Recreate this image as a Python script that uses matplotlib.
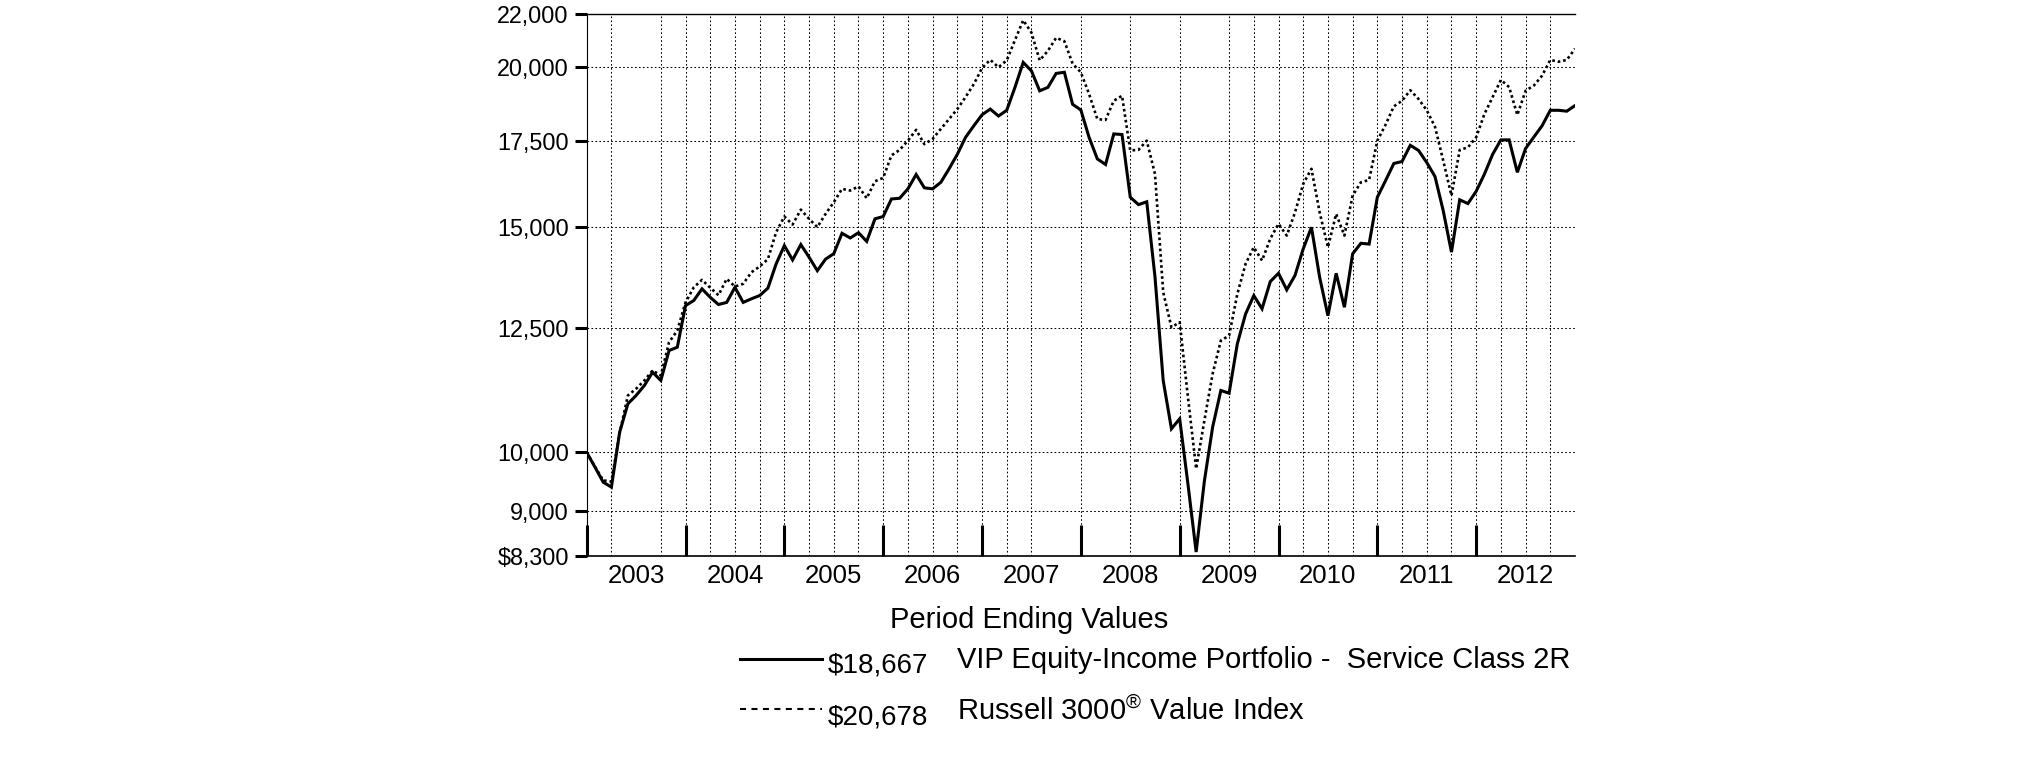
import matplotlib
matplotlib.use("Agg")
import matplotlib.pyplot as plt
from matplotlib.ticker import FixedLocator, FixedFormatter, NullLocator
from matplotlib.lines import Line2D

plt.rcParams['font.family'] = ['Liberation Sans', 'DejaVu Sans']
plt.rcParams['mathtext.fontset'] = 'custom'
plt.rcParams['mathtext.rm'] = 'Liberation Sans'
plt.rcParams['mathtext.it'] = 'Liberation Sans'

# ---- data (monthly, Dec 2002 .. Dec 2012) ----
years = ["2003", "2004", "2005", "2006", "2007", "2008", "2009", "2010", "2011", "2012"]

vip_equity_income = [
    10000, 9740, 9480, 9395, 10370, 10915, 11080, 11280, 11554, 11383, 12013, 12085,
    13025, 13144, 13423, 13220, 13050, 13100, 13460, 13100, 13185, 13262, 13440, 14040,
    14510, 14140, 14537, 14210, 13870, 14160, 14300, 14835, 14710, 14850, 14620, 15225,
    15290, 15780, 15800, 16070, 16490, 16100, 16070, 16260, 16660, 17100, 17630, 18000,
    18360, 18550, 18320, 18510, 19290, 20175, 19870, 19170, 19290, 19780, 19820, 18710,
    18520, 17630, 16960, 16790, 17740, 17720, 15830, 15620, 15700, 13720, 11380, 10435,
    10625, 9450, 8360, 9500, 10466, 11180, 11125, 12160, 12830, 13262, 12950, 13600,
    13805, 13400, 13750, 14425, 14996, 13700, 12790, 13805, 12986, 14297, 14570, 14550,
    15830, 16310, 16820, 16880, 17380, 17220, 16850, 16430, 15450, 14340, 15755, 15650,
    16000, 16500, 17100, 17550, 17550, 16555, 17280, 17640, 18000, 18510, 18510, 18480,
    18667,
]

russell_3000_value = [
    10000, 9750, 9510, 9490, 10353, 11080, 11214, 11383, 11590, 11486, 12194, 12453,
    13100, 13460, 13642, 13450, 13270, 13667, 13480, 13545, 13830, 13973, 14160, 14862,
    15290, 15070, 15480, 15225, 15000, 15360, 15686, 16070, 16020, 16140, 15800, 16290,
    16390, 17065, 17237, 17526, 17870, 17415, 17580, 17900, 18220, 18550, 18955, 19400,
    19970, 20270, 20000, 20250, 21000, 21765, 21290, 20250, 20600, 21090, 20960, 20130,
    19820, 19060, 18220, 18190, 18830, 19000, 17220, 17237, 17526, 16506, 13340, 12527,
    12640, 11050, 9711, 10593, 11520, 12231, 12340, 13300, 14040, 14466, 14124, 14690,
    15090, 14774, 15400, 16213, 16660, 15400, 14466, 15360, 14774, 15876, 16260, 16330,
    17526, 18036, 18640, 18830, 19190, 18890, 18510, 17970, 16906, 15876, 17237, 17315,
    17630, 18387, 18955, 19550, 19300, 18355, 19175, 19350, 19700, 20265, 20200, 20265,
    20678,
]

ytick_values = [8300, 9000, 10000, 12500, 15000, 17500, 20000, 22000]
ytick_labels = ["$8,300", "9,000", "10,000", "12,500", "15,000", "17,500", "20,000", "22,000"]
grid_values = [9000, 10000, 12500, 15000, 17500, 20000]

legend_values = ["$18,667", "$20,678"]
legend_labels = ["VIP Equity-Income Portfolio -  Service Class 2R",
                 r"Russell 3000$^{\circledR}$ Value Index"]
title_text = "Period Ending Values"

# ---- figure ----
W, H = 2025, 761
fig = plt.figure(figsize=(W / 100, H / 100), dpi=100)
L, R, T, B = 586.7, 1575, 14.3, 556
ax = fig.add_axes([L / W, 1 - B / H, (R - L) / W, (B - T) / H])

months = list(range(len(vip_equity_income)))

ax.set_yscale('log')
ax.set_ylim(ytick_values[0], ytick_values[-1])
ax.set_xlim(0, len(months) - 1)

# grid lines
dot = (0, (1.6, 2.2))
for v in grid_values:
    ax.axhline(v, color='black', lw=0.75, ls=dot, zorder=1)
missing_q = {2, 19, 21, 23, 25}
for k in range(1, 40):
    if k in missing_q:
        continue
    ax.axvline(3 * k, color='black', lw=0.75, ls=dot, zorder=1)

# series
ax.plot(months, vip_equity_income, color='black', lw=2.2, zorder=3,
        solid_joinstyle='miter')
ax.plot(months, russell_3000_value, color='black', lw=1.9, ls=(0, (1.0, 1.1)), zorder=3)

# y axis
ax.yaxis.set_major_locator(FixedLocator(ytick_values))
ax.yaxis.set_major_formatter(FixedFormatter(ytick_labels))
ax.yaxis.set_minor_locator(NullLocator())
ax.tick_params(axis='y', which='major', direction='out', length=8.4, width=2.2,
               pad=4.5, labelsize=16.8, colors='black')

# x axis: year boundary ticks inside, labels at mid-year
ax.xaxis.set_major_locator(FixedLocator(list(range(0, 120, 12))))
ax.xaxis.set_minor_locator(FixedLocator([6 + 12 * i for i in range(len(years))]))
ax.xaxis.set_minor_formatter(FixedFormatter(years))
ax.tick_params(axis='x', which='major', direction='in', length=22.3, width=2.2,
               labelbottom=False)
ax.tick_params(axis='x', which='minor', length=0, pad=6, labelsize=18.5)

ax.spines['right'].set_visible(False)
ax.spines['top'].set_linewidth(1.0)
ax.spines['left'].set_linewidth(0.8)
ax.spines['bottom'].set_linewidth(1.2)

# title and legend
fig.text(1029.2 / W, 1 - 628.3 / H, title_text, ha='center', va='baseline', fontsize=21)

fig.add_artist(Line2D([740 / W, 821.7 / W], [1 - 659.3 / H] * 2, color='black', lw=2.2))
fig.add_artist(Line2D([740 / W, 821.7 / W], [1 - 709.0 / H] * 2, color='black', lw=1.5,
                      ls=(0, (2.9, 2.6))))

fig.text(827.3 / W, 1 - 672 / H, legend_values[0], ha='left', va='baseline', fontsize=20)
fig.text(827.3 / W, 1 - 724 / H, legend_values[1], ha='left', va='baseline', fontsize=20)
fig.text(956.7 / W, 1 - 668.5 / H, legend_labels[0], ha='left', va='baseline', fontsize=21)
fig.text(956.7 / W, 1 - 720 / H, legend_labels[1], ha='left', va='baseline', fontsize=21)

fig.savefig("out.png", dpi=100, facecolor='white')
